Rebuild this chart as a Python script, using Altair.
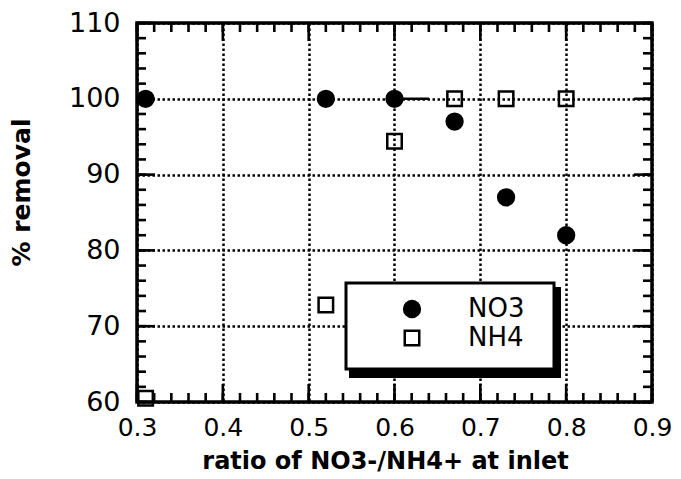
import altair as alt
import pandas as pd
import numpy as np

# ---- data ----
series_names = ["NO3", "NH4"]
no3_x = [0.31, 0.52, 0.60, 0.67, 0.73, 0.80]
no3_y = [100, 100, 100, 97, 87, 82]
nh4_x = [0.31, 0.52, 0.60, 0.67, 0.73, 0.80]
nh4_y = [60.5, 72.8, 94.4, 100, 100, 100]
seg_x = [0.60, 0.64]
seg_y = [100, 100]
x_labels = [0.3, 0.4, 0.5, 0.6, 0.7, 0.8, 0.9]
y_labels = [60, 70, 80, 90, 100, 110]
x_minor = [round(v, 2) for v in np.arange(0.30, 0.9001, 0.02)]
y_minor = list(range(60, 111, 2))

W, H = 515, 379
FONT = "DejaVu Sans"
BG = "white"

df = pd.DataFrame({
    "x": no3_x + nh4_x,
    "y": no3_y + nh4_y,
    "series": [series_names[0]] * len(no3_x) + [series_names[1]] * len(nh4_x),
})
seg = pd.DataFrame({"x": seg_x, "y": seg_y})
one = pd.DataFrame({"k": [0]})
xt_minor = pd.DataFrame({"x": x_minor})
xt_major = pd.DataFrame({"x": x_labels})
yt_minor = pd.DataFrame({"y": y_minor})
yt_major = pd.DataFrame({"y": y_labels})

xs = alt.Scale(domain=[0.3, 0.9], nice=False, zero=False)
ys = alt.Scale(domain=[60, 110], nice=False, zero=False)

leg = alt.Legend(
    orient="none", legendX=262, legendY=273, title=None, padding=0,
    labelFontSize=26, labelFont=FONT, labelColor="black", labelOffset=43,
    rowPadding=3, symbolStrokeColor="black", symbolStrokeWidth=2.5,
)

x_axis = alt.Axis(
    values=x_labels, format=".1f", title="ratio of NO3-/NH4+ at inlet",
    titleFont=FONT, titleFontSize=24, titleFontWeight="bold", titleColor="black",
    titleX=248, titleY=66, titleBaseline="alphabetic", titleAlign="center",
    labelFont=FONT, labelFontSize=25, labelColor="black", labelPadding=13,
    labelFlush=False, labelOverlap=False,
    ticks=False, tickSize=0, domain=False,
    grid=True, gridColor="black", gridDash=[2.5, 2.5], gridWidth=2.5, gridOpacity=1,
)
y_axis = alt.Axis(
    values=y_labels, format="d", title="% removal",
    titleFont=FONT, titleFontSize=25, titleFontWeight="bold", titleColor="black",
    titleX=-108, titleY=169, titleAngle=270, titleBaseline="alphabetic", titleAlign="center",
    labelFont=FONT, labelFontSize=27, labelColor="black", labelPadding=17,
    labelOverlap=False,
    ticks=False, tickSize=0, domain=False,
    grid=True, gridColor="black", gridDash=[2.5, 2.5], gridWidth=2.5, gridOpacity=1,
)

XQ = alt.X("x:Q", scale=xs, axis=x_axis)
YQ = alt.Y("y:Q", scale=ys, axis=y_axis)

pts = alt.Chart(df).mark_point(filled=True, strokeWidth=2.5, opacity=1).encode(
    x=XQ,
    y=YQ,
    shape=alt.Shape("series:N", scale=alt.Scale(domain=series_names, range=["circle", "square"]), legend=leg),
    fill=alt.Fill("series:N", scale=alt.Scale(domain=series_names, range=["black", "transparent"]), legend=leg),
    stroke=alt.Stroke("series:N", scale=alt.Scale(domain=series_names, range=["black", "black"]), legend=leg),
    size=alt.Size("series:N", scale=alt.Scale(domain=series_names, range=[250, 210]), legend=leg),
)

line = alt.Chart(seg).mark_line(color="black", strokeWidth=2.5).encode(x=XQ, y=YQ)

def xticks(data, length):
    bottom = alt.Chart(data).mark_rule(color="black", strokeWidth=2.6).encode(
        x=XQ, y=alt.value(H), y2=alt.value(H - length))
    top = alt.Chart(data).mark_rule(color="black", strokeWidth=2.6).encode(
        x=XQ, y=alt.value(0), y2=alt.value(length))
    return [bottom, top]

def yticks(data, length):
    left = alt.Chart(data).mark_rule(color="black", strokeWidth=2.6).encode(
        y=YQ, x=alt.value(0), x2=alt.value(length))
    right = alt.Chart(data).mark_rule(color="black", strokeWidth=2.6).encode(
        y=YQ, x=alt.value(W), x2=alt.value(W - length))
    return [left, right]

shadow = alt.Chart(one).mark_rect(color="black").encode(
    x=alt.value(212), x2=alt.value(424), y=alt.value(264), y2=alt.value(355))
box = alt.Chart(one).mark_rect(fill=BG, stroke="black", strokeWidth=3).encode(
    x=alt.value(209), x2=alt.value(417), y=alt.value(260), y2=alt.value(346))

layers = [shadow, box] + xticks(xt_minor, 9) + xticks(xt_major, 18) + yticks(yt_minor, 9) + yticks(yt_major, 18) + [line, pts]

chart = alt.layer(*layers).properties(
    width=W, height=H,
    autosize=alt.AutoSizeParams(type="none"),
    padding={"left": 129, "top": 15, "right": 21, "bottom": 72},
    background=BG,
).configure_view(stroke="black", strokeWidth=3.5)

chart.save("out.html", embed_options={"renderer": "svg", "actions": False})
